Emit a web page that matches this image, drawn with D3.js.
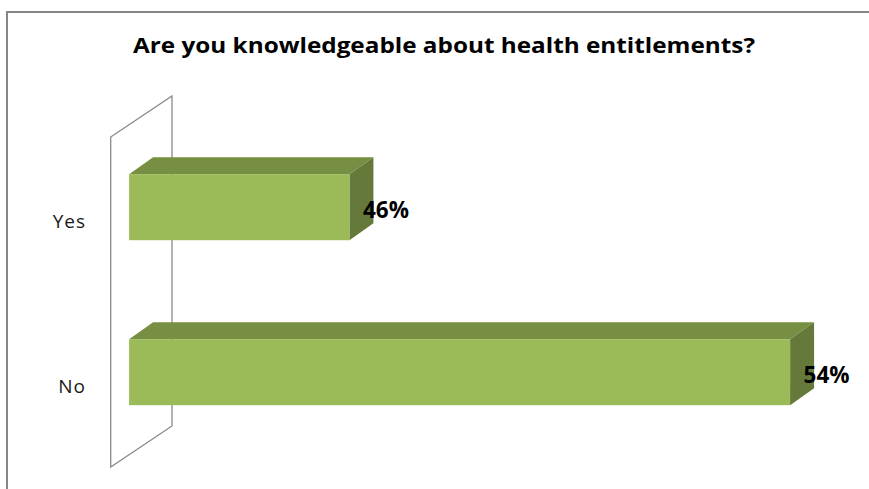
<!DOCTYPE html>
<html>
<head>
<meta charset="utf-8">
<script src="https://cdn.jsdelivr.net/npm/d3@7"></script>
<style>
  html, body { margin: 0; padding: 0; background: #fff; }
  svg { display: block; }
</style>
</head>
<body>
<svg id="chart" width="869" height="489"></svg>
<script>
// ---- data ----
const title = "Are you knowledgeable about health entitlements?";
const categories = ["Yes", "No"];
const values = [46, 54];           // percent
const valueLabels = ["46%", "54%"];
const axisDomain = [42, 54];       // value axis as drawn (axis does not start at 0)

// ---- layout ----
const W = 869, H = 489;
const svg = d3.select("#chart");
const FONT = "'Open Sans', 'Liberation Sans', Arial, sans-serif";

// 3D depth of the plot (oblique projection)
const depthDX = 61.3, depthDY = -41;
const barD0 = 0.30;  // bar front sits at this fraction of the depth

const wallX = 110.7, wallTop = 137, wallBottom = 467;

const x = d3.scaleLinear().domain(axisDomain).range([wallX, 771.7]);
const y = d3.scaleBand().domain(categories).range([wallTop, wallBottom])
  .paddingInner(0.6).paddingOuter(0.3);

// chart border
svg.append("rect")
  .attr("x", 7).attr("y", 12).attr("width", W + 20).attr("height", H + 20)
  .attr("fill", "none").attr("stroke", "#868686").attr("stroke-width", 2);

// title
svg.append("text")
  .attr("x", 444).attr("y", 53)
  .attr("text-anchor", "middle")
  .attr("font-family", FONT)
  .attr("font-weight", "bold").attr("font-size", 21)
  .attr("textLength", 622).attr("lengthAdjust", "spacingAndGlyphs")
  .attr("fill", "#000")
  .text(title);

// side wall (value axis wall)
const wallPts = [
  [wallX, wallTop],
  [wallX + depthDX, wallTop + depthDY],
  [wallX + depthDX, wallBottom + depthDY],
  [wallX, wallBottom]
];
svg.append("polygon")
  .attr("points", wallPts.map(p => p.join(",")).join(" "))
  .attr("fill", "#fff").attr("stroke", "#8a8a8a").attr("stroke-width", 1.3);

// bars
const off0x = depthDX * barD0, off0y = depthDY * barD0;
const bdx = 24, bdy = -17;
const colFront = "#9bbb59", colTop = "#778f42", colSide = "#65793a";

const g = svg.append("g");
categories.forEach((c, i) => {
  const x0 = x(axisDomain[0]) + off0x;
  const x1 = x(values[i]) + off0x;
  const y0 = y(c) + off0y;
  const y1 = y0 + y.bandwidth();
  // top face
  g.append("polygon")
    .attr("points", [[x0, y0], [x0 + bdx, y0 + bdy], [x1 + bdx, y0 + bdy], [x1, y0]].map(p => p.join(",")).join(" "))
    .attr("fill", colTop);
  // side face
  g.append("polygon")
    .attr("points", [[x1, y0], [x1 + bdx, y0 + bdy], [x1 + bdx, y1 + bdy], [x1, y1]].map(p => p.join(",")).join(" "))
    .attr("fill", colSide);
  // front face
  g.append("rect")
    .attr("x", x0).attr("y", y0).attr("width", x1 - x0).attr("height", y1 - y0)
    .attr("fill", colFront);
  // value label
  g.append("text")
    .attr("x", x1 + 13.5).attr("y", (y0 + y1) / 2 + 10.3)
    .attr("font-family", FONT)
    .attr("font-weight", "bold").attr("font-size", 22.5)
    .attr("textLength", 46).attr("lengthAdjust", "spacingAndGlyphs")
    .attr("fill", "#000")
    .text(valueLabels[i]);
  // category label
  svg.append("text")
    .attr("x", 86).attr("y", y(c) + y.bandwidth() / 2 + 8.8)
    .attr("text-anchor", "end")
    .attr("font-family", FONT)
    .attr("font-size", 19).attr("letter-spacing", 1)
    .attr("fill", "#1a1a1a")
    .text(c);
});
</script>
</body>
</html>
